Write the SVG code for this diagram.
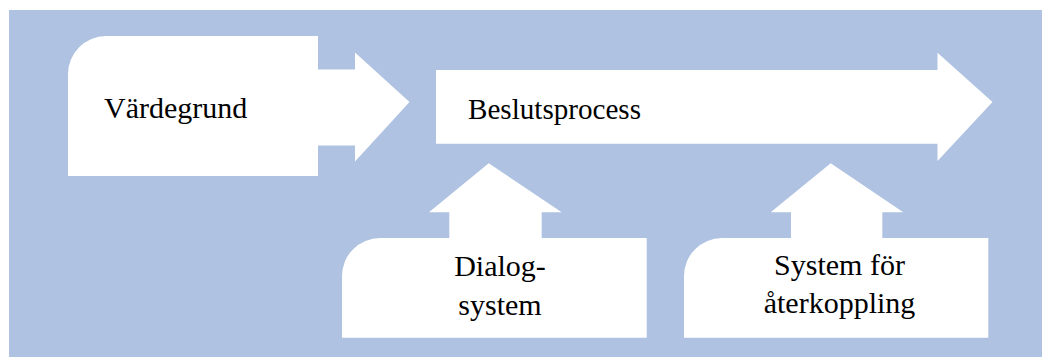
<svg xmlns="http://www.w3.org/2000/svg" width="1042" height="357" viewBox="0 0 1042 357">
  <style>
    .shape { fill: #ffffff; stroke: none; }
    .lbl { font-family: "Liberation Serif", "DejaVu Serif", serif; font-size: 30px; fill: #000000; }
    .mid { text-anchor: middle; }
  </style>
  <rect id="background" x="9" y="10" width="1033" height="347" fill="#AFC2E1"/>
  <g id="connectors"></g>
  <g id="vardegrund">
    <path class="shape" d="M68,74 A38,38 0 0 1 106,36 L318,36 L318,69.5 L355,69.5 L355,52.5 L409.5,102 L355,161.5 L355,145.5 L318,145.5 L318,176 L68,176 Z"/>
    <text class="lbl" x="104" y="118">Värdegrund</text>
  </g>
  <g id="beslutsprocess">
    <path class="shape" d="M436,70 L937.5,70 L937.5,52.7 L992.5,102 L937.5,161 L937.5,143.7 L436,143.7 Z"/>
    <text class="lbl" x="468" y="119" textLength="173" lengthAdjust="spacingAndGlyphs">Beslutsprocess</text>
  </g>
  <g id="dialogsystem">
    <path class="shape" d="M342,276 A38,38 0 0 1 380,238 L449.3,238 L449.3,212.3 L429,212.3 L488.7,163.3 L561.7,212.3 L541.7,212.3 L541.7,238 L646.7,238 L646.7,337.7 L342,337.7 Z"/>
    <text class="lbl mid" x="500" y="276">Dialog-</text>
    <text class="lbl mid" x="500" y="315">system</text>
  </g>
  <g id="aterkoppling">
    <path class="shape" d="M684,276 A38,38 0 0 1 722,238 L791,238 L791,212.3 L770.7,212.3 L830.7,163.3 L903.3,212.3 L882.3,212.3 L882.3,238 L988.3,238 L988.3,337.7 L684,337.7 Z"/>
    <text class="lbl mid" x="839.5" y="275">System för</text>
    <text class="lbl mid" x="839.5" y="313">återkoppling</text>
  </g>
</svg>
